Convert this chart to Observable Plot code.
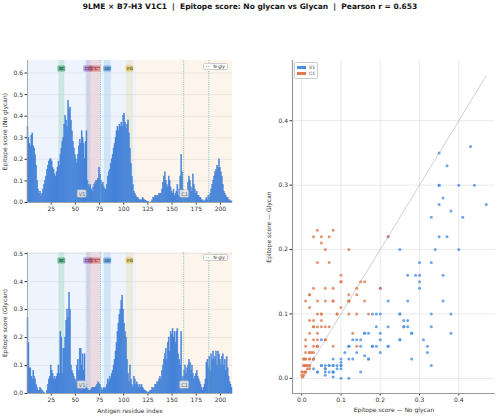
<!DOCTYPE html>
<html>
<head>
<meta charset="utf-8">
<script src="https://cdn.jsdelivr.net/npm/d3@7"></script>
<script src="https://cdn.jsdelivr.net/npm/@observablehq/plot@0.6"></script>
<style>
  body { margin: 0; background: #fff; }
  #chart { position: relative; width: 500px; height: 416px; background: #fff; font-family: "DejaVu Sans", sans-serif; overflow: hidden; }
  #chart > svg { position: absolute; background: transparent; overflow: visible; }
  .title { position: absolute; left: 0; top: 2px; width: 500px; text-align: center; font-weight: bold; font-size: 7.5px; color: #111; white-space: pre; }
  .legend { position: absolute; background: rgba(255,255,255,0.9); border: 0.6px solid #ccc; border-radius: 1.5px; font-size: 4.5px; color: #333; display: flex; flex-direction: column; justify-content: center; padding: 0 2px; box-sizing: border-box; white-space: nowrap; }
  .legend .row { display: flex; align-items: center; gap: 3px; height: 6px; }
  .swatch { display: inline-block; width: 10px; height: 3px; }
</style>
</head>
<body>
<div id="chart">
  <div class="title">9LME × B7-H3 V1C1  |  Epitope score: No glycan vs Glycan  |  Pearson r = 0.653</div>
</div>
<script>
// Per-residue epitope scores, residues 1..212
const scoreNoGlycan = [
  0.35, 0.30, 0.27, 0.26, 0.31, 0.32, 0.26, 0.25, 0.22, 0.17,
  0.10, 0.06, 0.04, 0.05, 0.03, 0.04, 0.06, 0.08, 0.10, 0.12,
  0.15, 0.17, 0.19, 0.20, 0.20, 0.19, 0.16, 0.15, 0.13, 0.12,
  0.14, 0.16, 0.19, 0.17, 0.22, 0.25, 0.28, 0.30, 0.36, 0.40,
  0.38, 0.35, 0.47, 0.43, 0.44, 0.38, 0.33, 0.28, 0.25, 0.22,
  0.20, 0.18, 0.22, 0.26, 0.29, 0.27, 0.33, 0.30, 0.27, 0.20,
  0.28, 0.33, 0.10, 0.08, 0.07, 0.08, 0.06, 0.05, 0.07, 0.08,
  0.09, 0.10, 0.10, 0.11, 0.16, 0.13, 0.10, 0.08, 0.09, 0.07,
  0.06, 0.06, 0.08, 0.12, 0.14, 0.15, 0.18, 0.20, 0.22, 0.25,
  0.27, 0.30, 0.33, 0.35, 0.33, 0.36, 0.35, 0.37, 0.35, 0.40,
  0.41, 0.37, 0.34, 0.36, 0.38, 0.32, 0.25, 0.18, 0.12, 0.08,
  0.05, 0.04, 0.03, 0.02, 0.02, 0.015, 0.01, 0.01, 0.01, 0.02,
  0.015, 0.01, 0.008, 0.005, 0.003, 0.002, 0.0, 0.0, 0.003, 0.01,
  0.02, 0.02, 0.03, 0.03, 0.025, 0.03, 0.04, 0.04, 0.04, 0.06,
  0.09, 0.12, 0.14, 0.10, 0.08, 0.07, 0.12, 0.10, 0.07, 0.05,
  0.04, 0.06, 0.03, 0.04, 0.05, 0.08, 0.03, 0.06, 0.12, 0.22,
  0.14, 0.06, 0.03, 0.04, 0.02, 0.05, 0.09, 0.12, 0.10, 0.07,
  0.05, 0.13, 0.08, 0.06, 0.04, 0.05, 0.03, 0.03, 0.02, 0.02,
  0.01, 0.01, 0.005, 0.005, 0.01, 0.02, 0.01, 0.03, 0.02, 0.04,
  0.06, 0.08, 0.10, 0.12, 0.14, 0.15, 0.17, 0.16, 0.20, 0.16,
  0.14, 0.12, 0.08, 0.05, 0.04, 0.03, 0.02, 0.02, 0.01, 0.01,
  0.005, 0.005
];
const scoreGlycan = [
  0.27, 0.18, 0.09, 0.09, 0.06, 0.05, 0.08, 0.06, 0.05, 0.03,
  0.02, 0.01, 0.01, 0.02, 0.015, 0.01, 0.005, 0.002, 0.0, 0.0,
  0.01, 0.03, 0.05, 0.06, 0.10, 0.08, 0.07, 0.05, 0.06, 0.05,
  0.06, 0.07, 0.10, 0.07, 0.22, 0.20, 0.07, 0.16, 0.16, 0.20,
  0.26, 0.30, 0.27, 0.36, 0.30, 0.10, 0.08, 0.07, 0.06, 0.05,
  0.04, 0.10, 0.12, 0.08, 0.16, 0.16, 0.10, 0.14, 0.08, 0.14,
  0.03, 0.02, 0.015, 0.01, 0.01, 0.01, 0.015, 0.02, 0.02, 0.02,
  0.02, 0.025, 0.03, 0.04, 0.035, 0.03, 0.02, 0.01, 0.015, 0.02,
  0.015, 0.02, 0.03, 0.05, 0.04, 0.06, 0.05, 0.07, 0.08, 0.10,
  0.12, 0.15, 0.18, 0.22, 0.25, 0.28, 0.30, 0.33, 0.35, 0.30,
  0.25, 0.22, 0.20, 0.12, 0.07, 0.04, 0.10, 0.05, 0.03, 0.02,
  0.06, 0.05, 0.03, 0.04, 0.03, 0.02, 0.03, 0.02, 0.03, 0.02,
  0.015, 0.01, 0.01, 0.005, 0.003, 0.002, 0.005, 0.01, 0.01, 0.02,
  0.015, 0.02, 0.03, 0.03, 0.04, 0.04, 0.05, 0.06, 0.05, 0.08,
  0.10, 0.12, 0.14, 0.16, 0.12, 0.18, 0.20, 0.15, 0.22, 0.21,
  0.23, 0.20, 0.22, 0.18, 0.22, 0.23, 0.14, 0.12, 0.10, 0.22,
  0.05, 0.06, 0.08, 0.10, 0.07, 0.09, 0.10, 0.12, 0.11, 0.08,
  0.10, 0.07, 0.05, 0.06, 0.07, 0.08, 0.06, 0.05, 0.04, 0.03,
  0.02, 0.01, 0.02, 0.03, 0.05, 0.11, 0.12, 0.09, 0.13, 0.08,
  0.14, 0.12, 0.15, 0.12, 0.13, 0.15, 0.10, 0.15, 0.14, 0.12,
  0.10, 0.13, 0.14, 0.10, 0.12, 0.08, 0.13, 0.09, 0.06, 0.04,
  0.03, 0.02
];

// Domains (residue ranges)
const domainNames = ["V1", "C1"];
const domainStart = [1, 114];
const domainEnd = [113, 212];
const domainColors = ["#edf4fe", "#fdf4eb"];

// Loops between strands
const loopNames = ["BC", "CC'", "C'C''", "DE", "FG"];
const loopStart = [33, 61, 65, 80, 103];
const loopEnd = [39, 66, 76, 87, 110];
const loopColors = ["#2ca25f", "#8e5fd0", "#e05a5a", "#3b8fe0", "#e0b830"];

// N-glycosylation sites
const nglySites = [63, 76, 162, 188];

const residueTicks = [25, 50, 75, 100, 125, 150, 175, 200];
const scatterTicks = [0.0, 0.1, 0.2, 0.3, 0.4];

const barBlue = "#4482d8";
const v1Color = "#4a8fe3";
const c1Color = "#e07a4e";
const nglyColor = "#5cb8ae";
const font = "DejaVu Sans";

const residues = scoreNoGlycan.map((v, i) => ({
  r: i + 1,
  noGly: v,
  gly: scoreGlycan[i],
  domain: i + 1 <= domainEnd[0] ? "V1" : "C1"
}));
const domains = domainNames.map((name, i) => ({name, start: domainStart[i], end: domainEnd[i], color: domainColors[i]}));
const loops = loopNames.map((name, i) => ({name, start: loopStart[i], end: loopEnd[i], color: loopColors[i]}));

// text width measurement for label boxes
const measureCtx = document.createElement("canvas").getContext("2d");
function textWidth(text, size) {
  measureCtx.font = `${size}px "${font}"`;
  return measureCtx.measureText(text).width;
}

const chart = document.getElementById("chart");
const PANEL_W = 240, PANEL_ML = 27, PANEL_MR = 8;

function panel(key, yLabel, opts) {
  const ymax = d3.max(residues, d => d[key]) * 1.4;
  const yTicks = d3.range(0, ymax, 0.1).map(v => +v.toFixed(1));
  const xDomain = [0.5, residues.length + 0.5];
  const pxX = (PANEL_W - PANEL_ML - PANEL_MR) / (xDomain[1] - xDomain[0]);
  const pxY = (opts.height - opts.marginTop - opts.marginBottom) / ymax;

  // label boxes sized from the text they hold (pixel sizes converted to data units)
  const boxed = (items, size, yc, padX, padY) => items.map(d => {
    const cx = (d.start + d.end) / 2;
    const hw = (textWidth(d.name, size) / 2 + padX) / pxX;
    const hh = (size * 0.62 + padY) / pxY;
    return {...d, cx, yc, x1: cx - hw, x2: cx + hw, y1: yc - hh, y2: yc + hh};
  });
  const loopLabels = boxed(loops, 4.3, ymax * 0.94, 1, 0.4);
  const domainLabels = boxed(domains, 5, ymax * 0.06, 1.2, 0.6);

  const svg = Plot.plot({
    width: PANEL_W,
    height: opts.height,
    marginLeft: PANEL_ML,
    marginRight: PANEL_MR,
    marginTop: opts.marginTop,
    marginBottom: opts.marginBottom,
    style: {fontFamily: font, fontSize: "6px", color: "#333", background: "transparent"},
    x: {domain: xDomain, ticks: residueTicks, tickSize: 2.5, tickPadding: 2,
        label: opts.xLabel, labelAnchor: "center", labelOffset: 19, labelArrow: "none"},
    y: {domain: [0, ymax], ticks: yTicks, tickFormat: ".1f", tickSize: 2.5, tickPadding: 2,
        label: yLabel, labelAnchor: "center", labelOffset: 25, labelArrow: "none"},
    marks: [
      Plot.rect(domains, {x1: d => d.start - 0.5, x2: d => d.end + 0.5, fill: "color"}),
      Plot.rect(loops, {x1: "start", x2: "end", fill: "color", fillOpacity: 0.17}),
      Plot.ruleY(yTicks.filter(v => v > 0), {stroke: "#d8d8d8", strokeWidth: 0.5}),
      Plot.rectY(residues, {x1: d => d.r - 0.5, x2: d => d.r + 0.5, y: key,
        fill: barBlue, stroke: barBlue, strokeWidth: 0.5}),
      Plot.ruleX(nglySites, {stroke: nglyColor, strokeWidth: 0.8, strokeDasharray: "1,1.2"}),
      Plot.ruleX([xDomain[0]], {stroke: "#999", strokeWidth: 0.8}),
      Plot.ruleY([0], {stroke: "#999", strokeWidth: 0.8}),
      Plot.rect(loopLabels, {x1: "x1", x2: "x2", y1: "y1", y2: "y2", fill: "color", fillOpacity: 0.6, rx: 1}),
      Plot.text(loopLabels, {x: "cx", y: "yc", text: "name", fontSize: 4.3, fill: "#222"}),
      Plot.rect(domainLabels, {x1: "x1", x2: "x2", y1: "y1", y2: "y2", fill: "#eeeeee", fillOpacity: 0.85,
        stroke: "#aaa", strokeWidth: 0.5, rx: 1}),
      Plot.text(domainLabels, {x: "cx", y: "yc", text: "name", fontSize: 5, fill: "#666"})
    ]
  });
  svg.style.left = "0px";
  svg.style.top = opts.top + "px";
  chart.appendChild(svg);
  return svg;
}

panel("noGly", "Epitope score (No glycan)", {top: 50, height: 170, marginTop: 10, marginBottom: 18, xLabel: null});
panel("gly", "Epitope score (Glycan)", {top: 240, height: 176, marginTop: 12, marginBottom: 23, xLabel: "Antigen residue index"});

// N-gly legends
function nglyLegend(top) {
  const el = document.createElement("div");
  el.className = "legend";
  el.style.left = "203px";
  el.style.top = top + "px";
  el.style.width = "25px";
  el.style.height = "7px";
  el.innerHTML = `<div class="row"><svg width="8" height="3"><line x1="0" x2="8" y1="1.5" y2="1.5" stroke="${nglyColor}" stroke-width="0.8" stroke-dasharray="1,1.2"/></svg><span>N-gly</span></div>`;
  chart.appendChild(el);
}
nglyLegend(62.5);
nglyLegend(253.5);

// Scatter: glycan vs no-glycan score per residue
const maxScore = d3.max(residues, d => Math.max(d.noGly, d.gly));
const sDomain = [-0.05 * maxScore, 1.05 * maxScore];
const scatter = Plot.plot({
  width: 245,
  height: 366,
  marginLeft: 37,
  marginRight: 5,
  marginTop: 10,
  marginBottom: 23,
  style: {fontFamily: font, fontSize: "6px", color: "#333", background: "transparent"},
  x: {domain: sDomain, ticks: scatterTicks, tickFormat: ".1f", tickSize: 2.5, tickPadding: 2, grid: true,
      label: "Epitope score — No glycan", labelAnchor: "center", labelOffset: 18, labelArrow: "none"},
  y: {domain: sDomain, ticks: scatterTicks, tickFormat: ".1f", tickSize: 2.5, tickPadding: 2, grid: true,
      label: "Epitope score — Glycan", labelAnchor: "center", labelOffset: 26, labelArrow: "none"},
  marks: [
    Plot.ruleX([sDomain[0]], {stroke: "#999", strokeWidth: 1.2}),
    Plot.ruleY([sDomain[0]], {stroke: "#999", strokeWidth: 1.2}),
    Plot.line([0, maxScore], {x: d => d, y: d => d, stroke: "#bbb", strokeWidth: 0.7}),
    Plot.dot(residues, {x: "noGly", y: "gly", r: 1.5, fill: d => d.domain === "V1" ? v1Color : c1Color, fillOpacity: 0.8, stroke: "none"})
  ]
});
scatter.style.left = "255px";
scatter.style.top = "50px";
chart.appendChild(scatter);

// Scatter legend
const sl = document.createElement("div");
sl.className = "legend";
sl.style.left = "293.5px";
sl.style.top = "61.5px";
sl.style.width = "24.5px";
sl.style.height = "17px";
sl.innerHTML = `<div class="row"><span class="swatch" style="background:${v1Color}"></span><span>V1</span></div>
<div class="row"><span class="swatch" style="background:${c1Color}"></span><span>C1</span></div>`;
chart.appendChild(sl);
</script>
</body>
</html>
